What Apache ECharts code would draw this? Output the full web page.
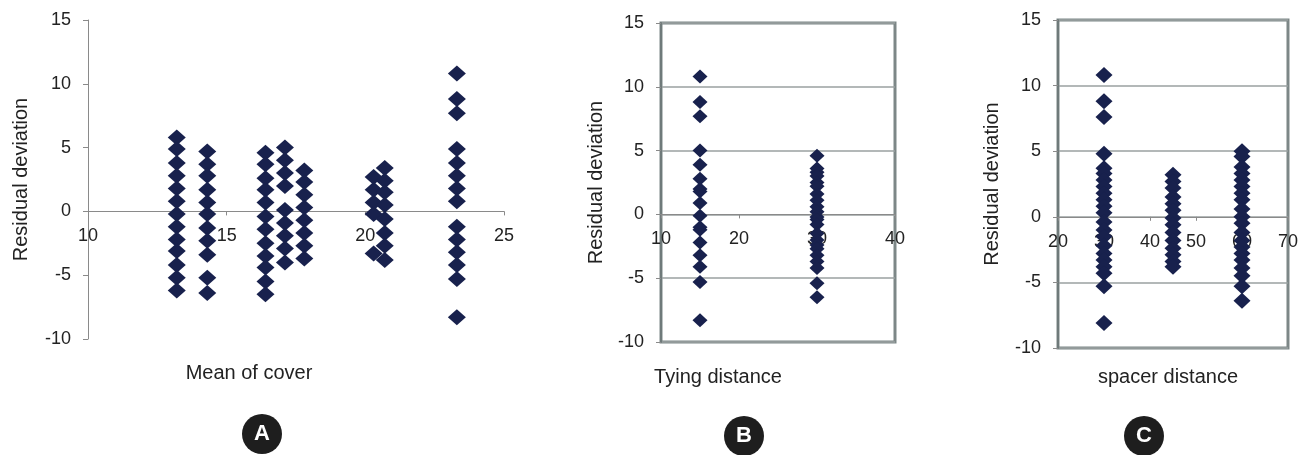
<!DOCTYPE html>
<html>
<head>
<meta charset="utf-8">
<script src="https://cdn.jsdelivr.net/npm/echarts@6/dist/echarts.min.js"></script>
<style>
  html, body { margin: 0; padding: 0; background: #fff; }
  #chart { width: 1301px; height: 455px; }
</style>
</head>
<body>
<div id="chart"></div>
<script>
// panel A: residuals grouped by mean of cover
var meanCover = [13.2, 14.3, 16.4, 17.1, 17.8, 20.3, 20.7, 23.3]
var residByCover = [
  [5.8, 4.9, 3.8, 2.8, 1.8, 0.8, -0.2, -1.2, -2.2, -3.1, -4.2, -5.2, -6.2],
  [4.7, 3.7, 2.8, 1.7, 0.7, -0.2, -1.3, -2.3, -3.4, -5.2, -6.4],
  [4.6, 3.7, 2.6, 1.7, 0.7, -0.4, -1.4, -2.5, -3.5, -4.4, -5.5, -6.5],
  [5.0, 4.0, 3.0, 2.0, 0.1, -0.9, -1.9, -2.9, -4.0],
  [3.2, 2.3, 1.3, 0.3, -0.7, -1.7, -2.7, -3.7],
  [2.7, 1.7, 0.7, -0.2, -3.3],
  [3.4, 2.4, 1.5, 0.5, -0.6, -1.7, -2.7, -3.8],
  [10.8, 8.8, 7.7, 4.9, 3.8, 2.8, 1.8, 0.8, -1.2, -2.2, -3.2, -4.2, -5.3, -8.3]
]

// panel B: residuals grouped by tying distance
var tyingDist = [15, 30]
var residByTying = [
  [10.8, 8.8, 7.7, 5.0, 3.9, 2.8, 2.0, 1.8, 0.9, -0.1, -1.0, -1.2, -2.2, -3.2, -4.1, -5.3, -8.3],
  [4.6, 3.6, 3.3, 3.0, 2.5, 2.2, 1.6, 1.1, 0.6, 0.2, -0.2, -0.4, -0.8, -1.5, -2.0, -2.4, -2.7, -3.2, -3.7, -4.2, -5.4, -6.5]
]

// panel C: residuals grouped by spacer distance
var spacerDist = [30, 45, 60]
var residBySpacer = [
  [10.8, 8.8, 7.6, 4.8, 3.7, 3.3, 2.8, 2.3, 1.8, 1.3, 0.8, 0.3, -0.4, -1.0, -1.5, -2.2, -2.8, -3.3, -3.8, -4.3, -5.3, -8.1],
  [3.2, 2.7, 2.2, 1.5, 1.0, 0.5, -0.1, -0.6, -1.2, -1.8, -2.4, -2.9, -3.4, -3.8],
  [5.0, 4.6, 3.8, 3.3, 2.8, 2.3, 1.8, 1.3, 0.6, 0.0, -0.5, -1.2, -1.8, -2.3, -2.8, -3.3, -3.9, -4.5, -5.3, -6.4]
]

var FONT = 'Liberation Sans'
var DOT = '#18214d'

function pairs (xs, groups) {
  var out = []
  for (var i = 0; i < xs.length; i++) {
    for (var j = 0; j < groups[i].length; j++) out.push([xs[i], groups[i][j]])
  }
  return out
}

// x axis drawn across the middle of the plot, at y = 0 (0.4 of the height up from the bottom)
function xAxisFor (idx, min, max, interval, gridHeight) {
  return {
    gridIndex: idx,
    type: 'value',
    min: min,
    max: max,
    interval: interval,
    offset: -gridHeight * 0.4,
    axisLine: { onZero: false, lineStyle: { color: '#8a8a8a', width: 1 } },
    axisTick: { show: true, length: 4, lineStyle: { color: '#8a8a8a' } },
    axisLabel: { color: '#222', fontFamily: FONT, fontSize: 18, margin: 16 },
    splitLine: { show: false }
  }
}

function yAxisFor (idx, boxed, gap) {
  return {
    gridIndex: idx,
    type: 'value',
    min: -10,
    max: 15,
    interval: 5,
    name: 'Residual deviation',
    nameLocation: 'middle',
    nameGap: gap,
    nameTextStyle: { color: '#222', fontFamily: FONT, fontSize: 20 },
    axisLine: { show: true, lineStyle: { color: boxed ? '#6f7a7a' : '#8a8a8a', width: boxed ? 2 : 1 } },
    axisTick: { show: true, length: 5, lineStyle: { color: '#8a8a8a' } },
    axisLabel: { color: '#222', fontFamily: FONT, fontSize: 18, margin: 17 },
    splitLine: { show: boxed, lineStyle: { color: '#9aa0a0', width: 1.5 } }
  }
}

function scatter (idx, data, size) {
  return {
    type: 'scatter',
    xAxisIndex: idx,
    yAxisIndex: idx,
    symbol: 'diamond',
    symbolSize: size,
    itemStyle: { color: DOT, opacity: 1 },
    data: data,
    z: 5
  }
}

function badge (cx, cy, letter) {
  return {
    type: 'group',
    children: [
      { type: 'circle', shape: { cx: cx, cy: cy, r: 20 }, style: { fill: '#1e1e1e' } },
      { type: 'text', x: cx, y: cy, style: { text: letter, fill: '#fff', font: 'bold 22px ' + FONT, align: 'center', verticalAlign: 'middle' } }
    ]
  }
}

function caption (cx, cy, text) {
  return { type: 'text', x: cx, y: cy, style: { text: text, fill: '#222', font: '20px ' + FONT, align: 'center', verticalAlign: 'middle' } }
}

var myChart = echarts.init(document.getElementById('chart'))
var option = {
  backgroundColor: '#fff',
  animation: false,
  grid: [
    { left: 88, top: 20, width: 416, height: 319 },
    { left: 661, top: 23, width: 234, height: 319, show: true, borderColor: '#7d8787', borderWidth: 3 },
    { left: 1058, top: 20, width: 232, height: 328, show: true, borderColor: '#7d8787', borderWidth: 3 }
  ],
  xAxis: [
    xAxisFor(0, 10, 25, 5, 319),
    xAxisFor(1, 10, 40, 10, 319),
    xAxisFor(2, 20, 70, 10, 328)
  ],
  yAxis: [
    yAxisFor(0, false, 57),
    yAxisFor(1, true, 55),
    yAxisFor(2, true, 56)
  ],
  series: [
    scatter(0, pairs(meanCover, residByCover), [18, 16]),
    scatter(1, pairs(tyingDist, residByTying), [15, 14]),
    scatter(2, pairs(spacerDist, residBySpacer), [17, 16])
  ],
  graphic: [
    caption(249, 373, 'Mean of cover'),
    caption(718, 377, 'Tying distance'),
    caption(1168, 377, 'spacer distance'),
    badge(262, 434, 'A'),
    badge(744, 436, 'B'),
    badge(1144, 436, 'C')
  ]
}
myChart.setOption(option)
</script>
</body>
</html>
